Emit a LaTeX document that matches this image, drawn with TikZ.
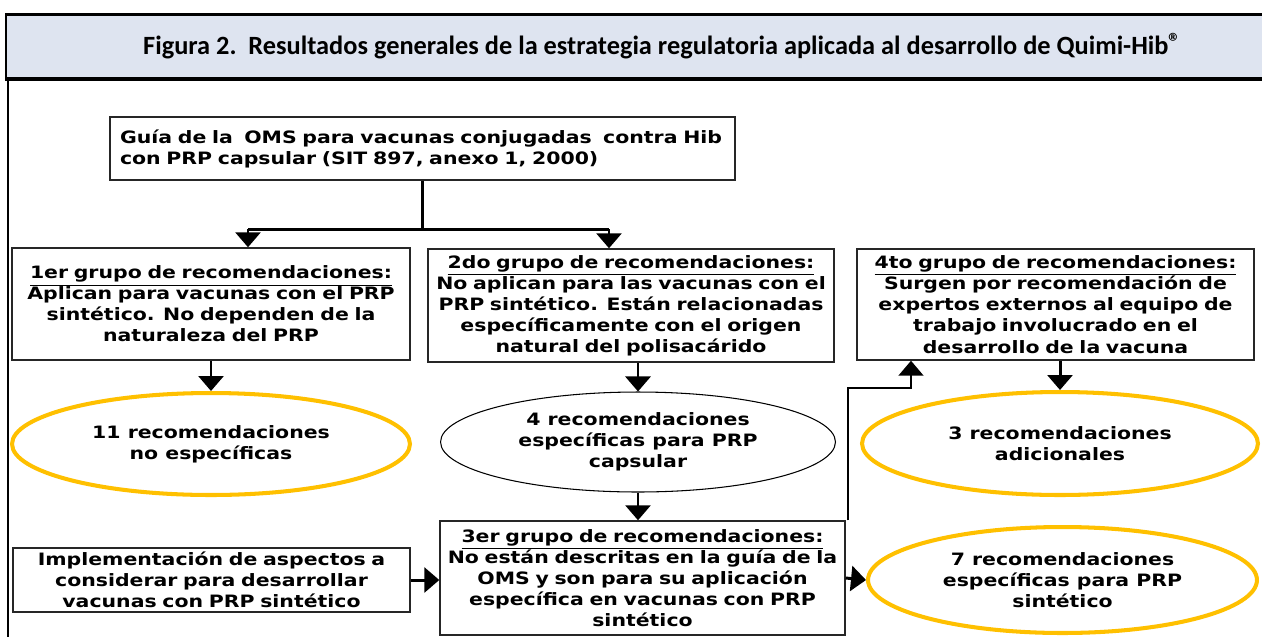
\documentclass[tikz,border=0pt]{standalone}
\usepackage{fontspec}
\setmainfont{DejaVu Sans}[FakeStretch=1.2]
\newfontfamily\titlefont{Carlito}
\usetikzlibrary{arrows.meta,shapes.geometric}
\definecolor{amarillo}{HTML}{FFC000}
\definecolor{banda}{HTML}{DEE4F0}
\tikzset{
  grupo/.style={draw=black!85,line width=0.85pt,align=center,inner sep=0pt},
  recom/.style={ellipse,draw=amarillo,line width=2.3pt,align=center,inner sep=0pt},
  flecha/.style={line width=1.7pt,-{Triangle[width=0.5cm,length=0.3cm]}},
  linea/.style={line width=1.7pt}
}
\begin{document}
\begin{tikzpicture}[x=0.02cm,y=-0.02cm,font=\bfseries\fontsize{9.7}{12}\selectfont]
    \useasboundingbox (0,0) rectangle (1262,637);
    % Title band
    \fill[banda] (5,13) rectangle (1262,79);
    \draw[line width=1.7pt] (1262,14) -| (6,79);
    \draw[line width=2.8pt] (5,79) -- (1262,79);
    \draw[line width=1.5pt] (8,80) -- (8,637);
    \node[font=\titlefont\bfseries\fontsize{15}{18}\selectfont] (titulo) at (662,46)
        {Figura 2.\ \ Resultados generales de la estrategia regulatoria aplicada al desarrollo de Quimi-Hib\raisebox{0.3ex}{\fontsize{14}{14}\selectfont ®}};
    % Guide box
    \node[grupo,align=left,text width=12.1cm,minimum width=12.5cm,minimum height=1.26cm] (oms) at (422.5,148.5)
        {\makebox[\linewidth][s]{Guía de la \ OMS para vacunas conjugadas \ contra Hib}\\con PRP capsular (SIT 897, anexo 1, 2000)};
    % Groups of recommendations
    \node[grupo,text width=7.9cm,minimum width=7.96cm,minimum height=2.24cm] (g1) at (211,304)
        {\underline{1er grupo de recomendaciones:}\\Aplican para vacunas con el PRP\\sintético. No dependen de la\\naturaleza del PRP};
    \node[grupo,text width=8.06cm,minimum width=8.12cm,minimum height=2.26cm] (g2) at (631,305.5)
        {\underline{2do grupo de recomendaciones:}\\No aplican para las vacunas con el\\PRP sintético. Están relacionadas\\específicamente con el origen\\natural del polisacárido};
    \node[grupo,text width=7.88cm,minimum width=7.94cm,minimum height=2.22cm] (g4) at (1055.5,304.5)
        {\underline{4to grupo de recomendaciones:}\\Surgen por recomendación de\\expertos externos al equipo de\\trabajo involucrado en el\\desarrollo de la vacuna};
    \node[grupo,text width=8.04cm,minimum width=8.1cm,minimum height=2.28cm] (g3) at (642.5,578)
        {\underline{3er grupo de recomendaciones:}\\No están descritas en la guía de la\\OMS y son para su aplicación\\específica en vacunas con PRP\\sintético};
    \node[grupo,text width=7.88cm,minimum width=7.94cm,minimum height=1.28cm] (impl) at (211.5,580)
        {Implementación de aspectos a\\considerar para desarrollar\\vacunas con PRP sintético};
    % Results
    \node[recom,minimum width=7.96cm,minimum height=2.04cm] (e1) at (211,444) {11 recomendaciones\\no específicas};
    \node[recom,draw=black,line width=0.6pt,minimum width=7.9cm,minimum height=2cm] (e2) at (638,442)
        {4 recomendaciones\\específicas para PRP\\capsular};
    \node[recom,minimum width=7.92cm,minimum height=2.06cm] (e3) at (1060,443.5) {3 recomendaciones\\adicionales};
    \node[recom,minimum width=7.78cm,minimum height=2.12cm] (e7) at (1062.5,580)
        {7 recomendaciones\\específicas para PRP\\sintético};
    % Connectors
    \coordinate (split) at (oms.south |- 0,229);
    \coordinate (b1) at (248,229);
    \coordinate (b2) at (609,229);
    \coordinate (giro) at (911,388);
    \draw[linea] (oms.south) -- (split);
    \draw[linea] (b1) -- (b2);
    \draw[flecha] (b1) -- (b1 |- g1.north);
    \draw[flecha] (b2) -- (b2 |- g2.north);
    \draw[flecha] (g1.south) -- (e1.north);
    \draw[flecha] (e2.north |- g2.south) -- (e2.north);
    \draw[flecha] (e2.south) -- (e2.south |- g3.north);
    \draw[flecha] (e3.north |- g4.south) -- (e3.north);
    \draw[flecha] (impl.east) -- (impl.east -| g3.west);
    \draw[flecha] (g3.east) -- (e7.west);
    \draw[flecha,line width=1.1pt] ([xshift=0.04cm]g3.north east) |- (giro) -- (giro |- g4.south);
\end{tikzpicture}
\end{document}
